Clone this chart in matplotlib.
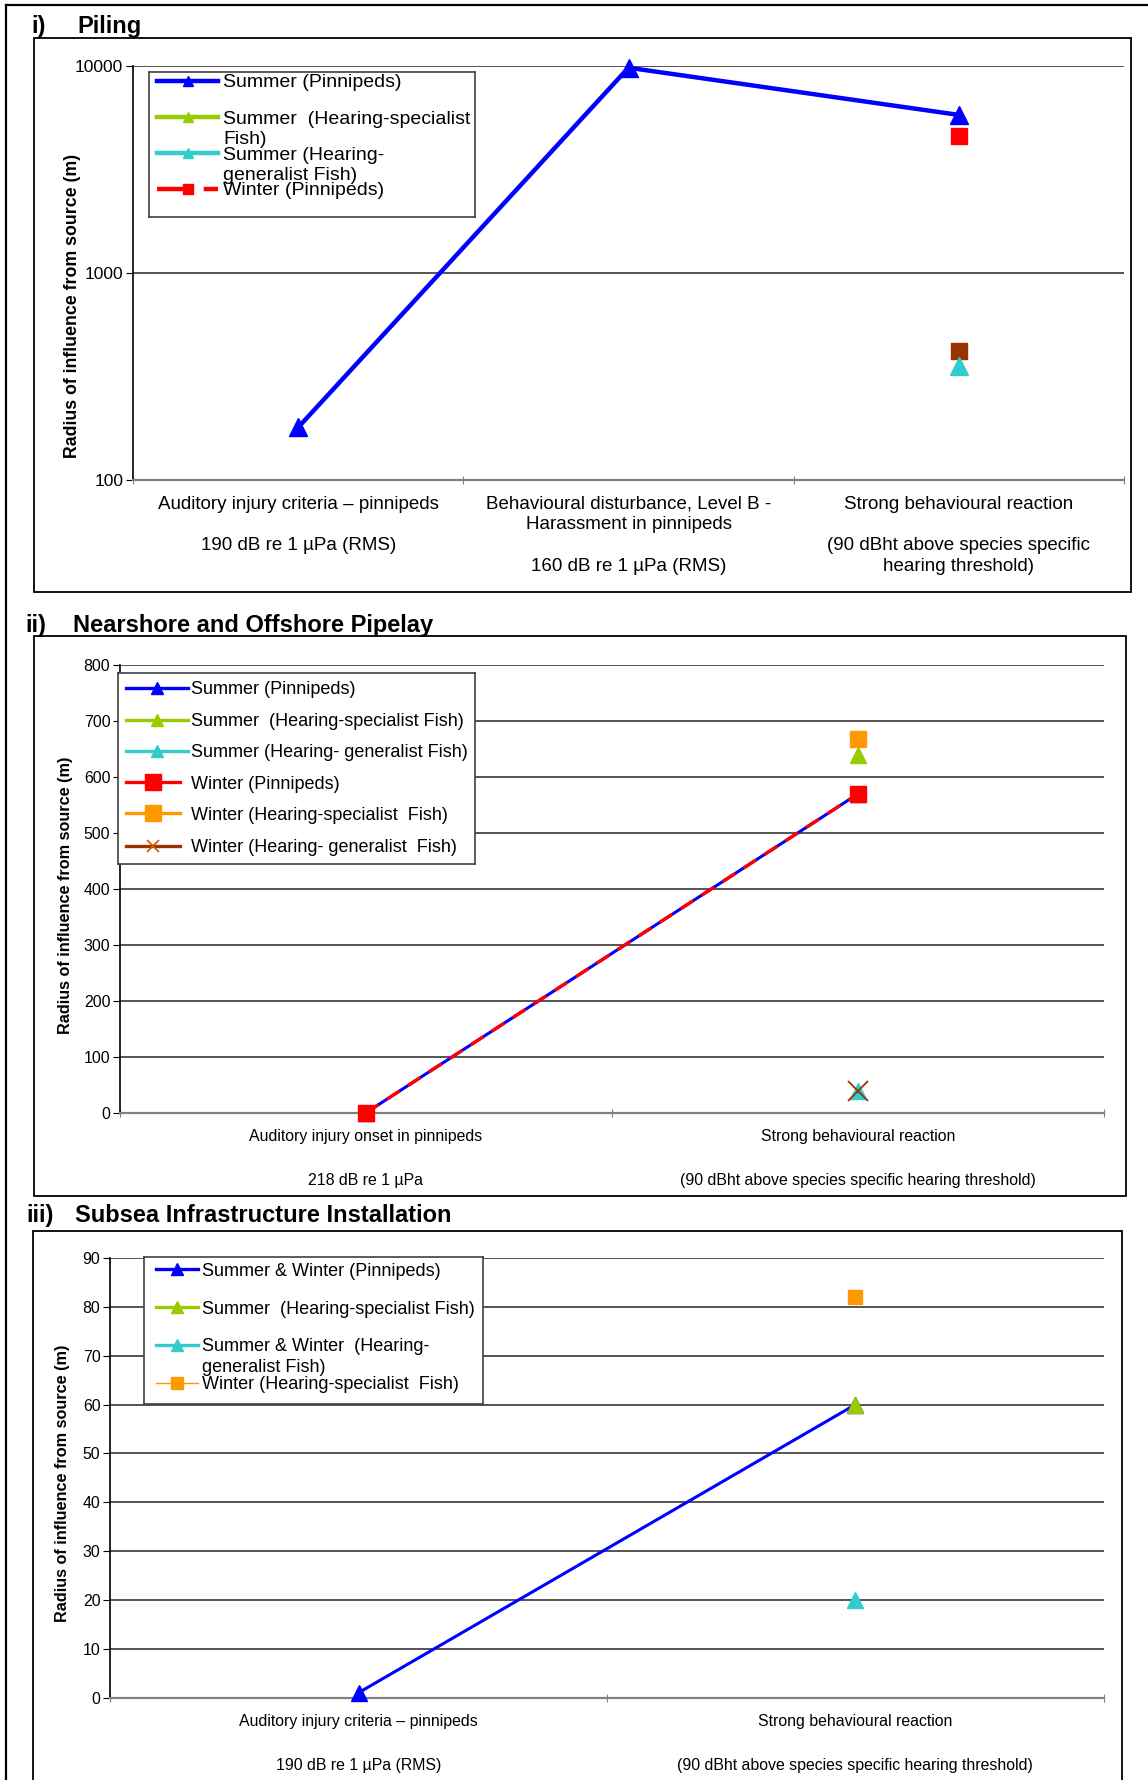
import numpy as np
import matplotlib
matplotlib.use('Agg')
import matplotlib.pyplot as plt
from matplotlib.patches import Rectangle
from matplotlib.lines import Line2D
from matplotlib.ticker import NullLocator

plt.rcParams['font.family'] = ['Liberation Sans', 'DejaVu Sans']

W, H = 1148, 1780

BLUE = '#0000ff'
GREEN = '#99cc00'
CYAN = '#33cccc'
RED = '#ff0000'
ORANGE = '#ff9900'
BROWN = '#993300'
nan = np.nan

# i) Piling
piling_cats = ['Auditory injury criteria – pinnipeds\n\n190 dB re 1 µPa (RMS)',
               'Behavioural disturbance, Level B -\nHarassment in pinnipeds\n\n160 dB re 1 µPa (RMS)',
               'Strong behavioural reaction\n\n(90 dBht above species specific\nhearing threshold)']
piling_summer_pinn = [180, 9800, 5800]
piling_winter_pinn = [nan, nan, 4600]
piling_summer_gen = [nan, nan, 355]
piling_winter_gen = [nan, nan, 420]
piling_keys = ['Summer (Pinnipeds)', 'Summer  (Hearing-specialist\nFish)',
               'Summer (Hearing-\ngeneralist Fish)', 'Winter (Pinnipeds)']

# ii) Nearshore and Offshore Pipelay
pipelay_cats = ['Auditory injury onset in pinnipeds\n\n218 dB re 1 µPa',
                'Strong behavioural reaction\n\n(90 dBht above species specific hearing threshold)']
pipelay_summer_pinn = [0, 570]
pipelay_winter_pinn = [0, 570]
pipelay_summer_spec = [nan, 640]
pipelay_summer_gen = [nan, 39]
pipelay_winter_spec = [nan, 668]
pipelay_winter_gen = [nan, 39]
pipelay_keys = ['Summer (Pinnipeds)', 'Summer  (Hearing-specialist Fish)',
                'Summer (Hearing- generalist Fish)', 'Winter (Pinnipeds)',
                'Winter (Hearing-specialist  Fish)', 'Winter (Hearing- generalist  Fish)']

# iii) Subsea Infrastructure Installation
subsea_cats = ['Auditory injury criteria – pinnipeds\n\n190 dB re 1 µPa (RMS)',
               'Strong behavioural reaction\n\n(90 dBht above species specific hearing threshold)']
subsea_pinn = [1, 60]
subsea_summer_spec = [nan, 60]
subsea_gen = [nan, 20]
subsea_winter_spec = [nan, 82]
subsea_keys = ['Summer & Winter (Pinnipeds)', 'Summer  (Hearing-specialist Fish)',
               'Summer & Winter  (Hearing-\ngeneralist Fish)', 'Winter (Hearing-specialist  Fish)']

fig = plt.figure(figsize=(W / 100, H / 100), dpi=100)


def px_axes(l, t, r, b):
    return fig.add_axes([l / W, 1 - b / H, (r - l) / W, (b - t) / H])


def frame(l, t, r, b, lw=1.3):
    fig.add_artist(Rectangle((l / W, 1 - b / H), (r - l) / W, (b - t) / H,
                             transform=fig.transFigure, fill=False, ec='black', lw=lw))


def title(num, text, x_num, x_text, y):
    fig.text(x_num / W, 1 - y / H, num, fontsize=17, fontweight='bold', va='baseline')
    fig.text(x_text / W, 1 - y / H, text, fontsize=17, fontweight='bold', va='baseline')


def style(ax, cats, catsize, pad, lsp, ticksize, ylabel, ylab_xy, ylabsize):
    n = len(cats)
    ax.set_xlim(-0.5, n - 0.5)
    ax.set_xticks(np.arange(n + 1) - 0.5)
    ax.set_xticklabels([])
    ax.set_xticks(np.arange(n), cats, minor=True)
    ax.tick_params(axis='x', which='major', direction='inout', length=6, color='#808080')
    ax.tick_params(axis='x', which='minor', length=0, pad=pad, labelsize=catsize)
    for t in ax.get_xticklabels(minor=True):
        t.set_linespacing(lsp)
    ax.tick_params(axis='y', which='major', direction='out', length=5, pad=2,
                   labelsize=ticksize, color='black')
    ax.yaxis.set_minor_locator(NullLocator())
    ax.spines[['top', 'right']].set_visible(False)
    ax.spines['bottom'].set_color('#808080')
    ax.spines['bottom'].set_linewidth(1.6)
    ax.spines['left'].set_color('black')
    ax.spines['left'].set_linewidth(1.2)
    ax.yaxis.grid(True, which='major', color='#262626', lw=1.1)
    ax.set_axisbelow(True)
    ax.set_ylabel(ylabel, fontsize=ylabsize, fontweight='bold', va='center')
    ax.yaxis.set_label_coords(*ylab_xy)


def key(box, rows, text_x, size, pitch):
    l, t, r, b = box
    lax = px_axes(l, t, r, b)
    lax.set_zorder(5)
    lax.set_xlim(l, r)
    lax.set_ylim(b, t)
    lax.set_xticks([])
    lax.set_yticks([])
    for s in lax.spines.values():
        s.set_color('#404040')
        s.set_linewidth(1.2)
    for label, y, x0, x1, st in rows:
        xm = (x0 + x1) / 2
        lax.plot([x0, xm, x1], [y, y, y], markevery=[1], **st)
        for k, line in enumerate(label.split('\n')):
            lax.text(text_x, y + k * pitch, line, fontsize=size, va='center_baseline')


ylab = 'Radius of influence from source (m)'

# page border
fig.add_artist(Line2D([5.7 / W, 5.7 / W], [0, 1 - 4.5 / H], transform=fig.transFigure,
                      color='black', lw=1.6))
fig.add_artist(Line2D([5.7 / W, 1], [1 - 4.5 / H, 1 - 4.5 / H], transform=fig.transFigure,
                      color='black', lw=1.6))

# ---- i) Piling ----
title('i)', 'Piling', 31, 77, 33)
frame(34, 37.5, 1131, 591.6)
ax1 = px_axes(133, 65.9, 1124, 480.3)
x1 = np.arange(len(piling_cats))
ax1.plot(x1, piling_summer_pinn, color=BLUE, lw=3.2, marker='^', ms=13, zorder=3, clip_on=False)
ax1.plot(x1, piling_winter_pinn, color=RED, lw=2.5, ls='--', marker='s', ms=12, zorder=3)
ax1.plot(x1, piling_winter_gen, color=BROWN, lw=0, marker='s', ms=12, zorder=3)
ax1.plot(x1, piling_summer_gen, color=CYAN, lw=0, marker='^', ms=13, zorder=3)
ax1.set_yscale('log')
ax1.set_ylim(100, 10000)
ax1.set_yticks([100, 1000, 10000], ['100', '1000', '10000'])
style(ax1, piling_cats, 13.5, 11, 1.30, 12.5, ylab, (-0.0608, 0.4206), 12.8)

k1 = dict(lw=3.2, marker='^', ms=7)
key((148.8, 71.5, 474.5, 216.5), [
    (piling_keys[0], 80.6, 157, 218, dict(color=BLUE, **k1)),
    (piling_keys[1], 117, 157, 218, dict(color=GREEN, **k1)),
    (piling_keys[2], 153.3, 157, 218, dict(color=CYAN, **k1)),
    (piling_keys[3], 188.5, 157, 218, dict(color=RED, lw=3.2, dashes=(7, 3.5), marker='s', ms=7)),
], 223, 14, 20.4)

# ---- ii) Nearshore and Offshore Pipelay ----
title('ii)', 'Nearshore and Offshore Pipelay', 25, 72.7, 631.7)
frame(34, 636, 1126.4, 1195.7)
ax2 = px_axes(120, 665.4, 1103.7, 1112.8)
x2 = np.arange(len(pipelay_cats))
ax2.plot(x2, pipelay_summer_pinn, color=BLUE, lw=2.2, marker='^', ms=12, zorder=3, clip_on=False)
ax2.plot(x2, pipelay_winter_pinn, color=RED, lw=2.4, dashes=(4.5, 3), marker='s', ms=12,
         zorder=3, clip_on=False)
ax2.plot(x2, pipelay_summer_spec, color=GREEN, lw=0, marker='^', ms=12, zorder=3)
ax2.plot(x2, pipelay_winter_spec, color=ORANGE, lw=0, marker='s', ms=12, zorder=3)
ax2.plot(x2, pipelay_summer_gen, color=CYAN, lw=0, marker='^', ms=11, zorder=3)
ax2.plot(x2, pipelay_winter_gen, color=BROWN, lw=0, marker='x', ms=14, mew=1.3, zorder=3)
ax2.set_ylim(0, 800)
ax2.set_yticks(np.arange(0, 801, 100))
style(ax2, pipelay_cats, 11.4, 11.5, 1.59, 11.4, ylab, (-0.0557, 0.487), 11.7)

key((117.5, 673.3, 474.5, 864), [
    (pipelay_keys[0], 688, 126, 187.5, dict(color=BLUE, lw=2.4, marker='^', ms=9)),
    (pipelay_keys[1], 720, 126, 187.5, dict(color=GREEN, lw=2.4, marker='^', ms=9)),
    (pipelay_keys[2], 750.7, 126, 187.5, dict(color=CYAN, lw=2.4, marker='^', ms=9)),
    (pipelay_keys[3], 782.5, 126, 180, dict(color=RED, lw=2.4, marker='s', ms=12)),
    (pipelay_keys[4], 813.5, 126, 180, dict(color=ORANGE, lw=2.4, marker='s', ms=12)),
    (pipelay_keys[5], 846, 126, 180, dict(color=BROWN, lw=2.4, marker='x', ms=9, mew=1.2,
                                          mec='#cc5500')),
], 191, 13, 20.4)

# ---- iii) Subsea Infrastructure Installation ----
title('iii)', 'Subsea Infrastructure Installation', 26, 74.6, 1221.7)
frame(32.5, 1230.6, 1122, 1800)
ax3 = px_axes(110.2, 1258.1, 1103.7, 1697.6)
x3 = np.arange(len(subsea_cats))
ax3.plot(x3, subsea_pinn, color=BLUE, lw=2.2, marker='^', ms=11, zorder=3, clip_on=False)
ax3.plot(x3, subsea_summer_spec, color=GREEN, lw=0, marker='^', ms=12, zorder=3)
ax3.plot(x3, subsea_gen, color=CYAN, lw=0, marker='^', ms=12, zorder=3)
ax3.plot(x3, subsea_winter_spec, color=ORANGE, lw=0, marker='s', ms=10.5, zorder=3)
ax3.set_ylim(0, 90)
ax3.set_yticks(np.arange(0, 91, 10))
style(ax3, subsea_cats, 11.4, 11.5, 1.59, 11.4, ylab, (-0.0478, 0.487), 11.7)

key((143.5, 1257.3, 483.4, 1404), [
    (subsea_keys[0], 1269.3, 156, 198, dict(color=BLUE, lw=2.4, marker='^', ms=9)),
    (subsea_keys[1], 1307.3, 156, 198, dict(color=GREEN, lw=2.4, marker='^', ms=9)),
    (subsea_keys[2], 1345, 156, 198, dict(color=CYAN, lw=2.4, marker='^', ms=9)),
    (subsea_keys[3], 1382.7, 156, 198, dict(color=ORANGE, lw=1.0, marker='s', ms=8)),
], 202, 13, 20.4)

fig.savefig('out.png', dpi=100)
